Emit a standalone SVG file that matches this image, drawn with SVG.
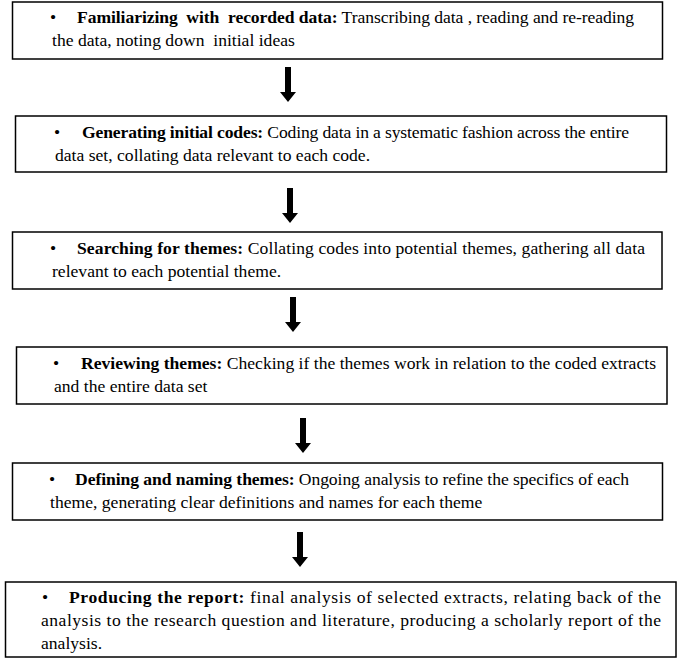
<svg xmlns="http://www.w3.org/2000/svg" width="685" height="659" viewBox="0 0 685 659">
<style>
.box{fill:#fff;stroke:#000;stroke-width:1.5}
.t{font-family:"Liberation Serif","Times New Roman",serif;font-size:17.6px;fill:#000}
.b{font-weight:bold}
.arr{fill:#000}
</style>
<rect width="685" height="659" fill="#fff"/>
<g id="connectors">
<path class="arr" d="M285,67 h6 v25 h5 l-8,10 l-8,-10 h5 z"/>
<path class="arr" d="M287,188 h6 v25 h5 l-8,10 l-8,-10 h5 z"/>
<path class="arr" d="M290,297 h6 v25 h5 l-8,10 l-8,-10 h5 z"/>
<path class="arr" d="M300,418 h6 v25 h5 l-8,10 l-8,-10 h5 z"/>
<path class="arr" d="M297,532 h6 v25 h5 l-8,10 l-8,-10 h5 z"/>
</g>
<g id="node1">
<rect class="box" x="12.5" y="2" width="650" height="57"/>
<text class="t" x="50" y="23">•</text>
<text class="t" x="77" y="23" textLength="557" lengthAdjust="spacing" xml:space="preserve"><tspan class="b">Familiarizing  with  recorded data:</tspan> Transcribing data , reading and re-reading</text>
<text class="t" x="52" y="46" xml:space="preserve">the data, noting down  initial ideas</text>
</g>
<g id="node2">
<rect class="box" x="15.5" y="116" width="651" height="56"/>
<text class="t" x="54" y="138">•</text>
<text class="t" x="82" y="138" textLength="547" lengthAdjust="spacing"><tspan class="b">Generating initial codes:</tspan> Coding data in a systematic fashion across the entire</text>
<text class="t" x="55" y="161">data set, collating data relevant to each code.</text>
</g>
<g id="node3">
<rect class="box" x="12.5" y="232" width="649.5" height="57"/>
<text class="t" x="50" y="254">•</text>
<text class="t" x="77" y="254" textLength="568" lengthAdjust="spacing"><tspan class="b">Searching for themes:</tspan> Collating codes into potential themes, gathering all data</text>
<text class="t" x="52" y="277">relevant to each potential theme.</text>
</g>
<g id="node4">
<rect class="box" x="16.5" y="347" width="650.5" height="57"/>
<text class="t" x="53" y="369">•</text>
<text class="t" x="81" y="369" textLength="575" lengthAdjust="spacing"><tspan class="b">Reviewing themes:</tspan> Checking if the themes work in relation to the coded extracts</text>
<text class="t" x="54" y="392">and the entire data set</text>
</g>
<g id="node5">
<rect class="box" x="12.5" y="463" width="650" height="57"/>
<text class="t" x="49" y="485">•</text>
<text class="t" x="75" y="485" textLength="554" lengthAdjust="spacing"><tspan class="b">Defining and naming themes:</tspan> Ongoing analysis to refine the specifics of each</text>
<text class="t" x="50" y="508">theme, generating clear definitions and names for each theme</text>
</g>
<g id="node6">
<rect class="box" x="5.5" y="582" width="670.5" height="75"/>
<text class="t" x="42" y="603">•</text>
<text class="t" x="69" y="603" textLength="592" lengthAdjust="spacing"><tspan class="b">Producing the report:</tspan> final analysis of selected extracts, relating back of the</text>
<text class="t" x="41" y="626" textLength="620" lengthAdjust="spacing">analysis to the research question and literature, producing a scholarly report of the</text>
<text class="t" x="41" y="649">analysis.</text>
</g>
</svg>
